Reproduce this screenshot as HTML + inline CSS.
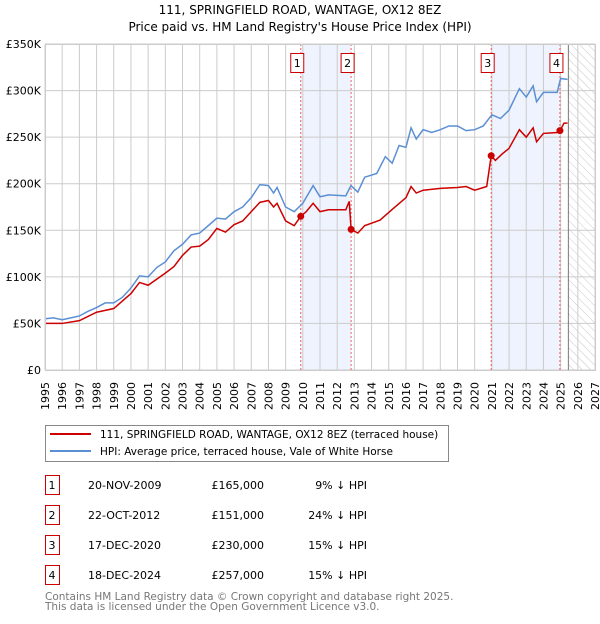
<!DOCTYPE html>
<html><head><meta charset="utf-8"><style>
body{margin:0;background:#fff;font-family:"DejaVu Sans","Liberation Sans",sans-serif;}
svg text{font-family:"DejaVu Sans","Liberation Sans",sans-serif;}
</style></head><body>
<svg id="chart" width="600" height="620" xmlns="http://www.w3.org/2000/svg">
<defs><pattern id="hatch" width="6" height="6" patternUnits="userSpaceOnUse" patternTransform="rotate(-45)"><line x1="0" y1="0" x2="0" y2="6" stroke="#bbb" stroke-width="0.8"/></pattern></defs>
<text x="300" y="14" text-anchor="middle" font-size="12">111, SPRINGFIELD ROAD, WANTAGE, OX12 8EZ</text>
<text x="300" y="31" text-anchor="middle" font-size="12">Price paid vs. HM Land Registry's House Price Index (HPI)</text>
<g id="plot"></g>
<g>
<rect x="45.5" y="425.5" width="403" height="36" fill="#fff" stroke="#888"/>
<line x1="50" y1="434" x2="91" y2="434" stroke="#cc0000" stroke-width="2"/>
<text x="100" y="438" font-size="10.5">111, SPRINGFIELD ROAD, WANTAGE, OX12 8EZ (terraced house)</text>
<line x1="50" y1="451" x2="91" y2="451" stroke="#5b8fd4" stroke-width="2"/>
<text x="100" y="455" font-size="10.5">HPI: Average price, terraced house, Vale of White Horse</text>
</g>
<g id="table"></g>
<text x="45" y="600" font-size="10.5" fill="#777">Contains HM Land Registry data © Crown copyright and database right 2025.</text>
<text x="45" y="610" font-size="10.5" fill="#777">This data is licensed under the Open Government Licence v3.0.</text>
</svg>
<script>
const hpiYears=[1995,1995.5,1996,1996.5,1997,1997.5,1998,1998.5,1999,1999.5,2000,2000.5,2001,2001.5,2002,2002.5,2003,2003.5,2004,2004.5,2005,2005.5,2006,2006.5,2007,2007.5,2008,2008.3,2008.5,2009,2009.5,2010,2010.6,2011,2011.5,2012.5,2012.8,2013.2,2013.6,2014.3,2014.8,2015.2,2015.6,2016,2016.3,2016.6,2017,2017.5,2018,2018.5,2019,2019.5,2020,2020.5,2021,2021.5,2022,2022.6,2023,2023.4,2023.6,2024,2024.8,2025,2025.4];
const hpiValues=[55,56,54,56,58,63,67,72,72,78,88,101,100,110,116,128,135,145,147,155,163,162,170,175,185,199,198,190,196,175,170,179,198,186,188,187,198,191,207,211,229,222,241,239,260,248,258,255,258,262,262,257,258,262,274,270,279,302,293,305,288,298,298,313,312];
const ppYears=[1995,1996,1997,1998,1999,2000,2000.5,2001,2002,2002.5,2003,2003.5,2004,2004.5,2005,2005.5,2006,2006.5,2007,2007.5,2008,2008.3,2008.5,2009,2009.5,2009.88,2010.2,2010.6,2011,2011.5,2012.5,2012.7,2012.81,2013.2,2013.6,2014.5,2015.3,2016,2016.3,2016.6,2017,2018,2019,2019.5,2020,2020.7,2020.96,2021.2,2021.6,2022,2022.6,2023,2023.4,2023.6,2024,2024.8,2024.96,2025.2,2025.4];
const ppValues=[50,50,53,62,66,82,94,91,104,111,123,132,133,140,152,148,156,160,170,180,182,175,179,160,155,165,170,179,170,172,172,181,151,147,155,161,174,185,197,190,193,195,196,197,193,197,230,225,232,238,258,250,260,245,254,255,257,265,265];
const saleIds=["1","2","3","4"];
const saleYears=[2009.88,2012.81,2020.96,2024.96];
const salePrices=[165,151,230,257];
const saleDates=["20-NOV-2009","22-OCT-2012","17-DEC-2020","18-DEC-2024"];
const salePriceLabels=["£165,000","£151,000","£230,000","£257,000"];
const saleDiffs=["9% ↓ HPI","24% ↓ HPI","15% ↓ HPI","15% ↓ HPI"];
const yTicks=[0,50,100,150,200,250,300,350];
const yTickLabels=["£0","£50K","£100K","£150K","£200K","£250K","£300K","£350K"];
const xTicks=[1995,1996,1997,1998,1999,2000,2001,2002,2003,2004,2005,2006,2007,2008,2009,2010,2011,2012,2013,2014,2015,2016,2017,2018,2019,2020,2021,2022,2023,2024,2025,2026,2027];
const dataEnd=2025.45;

const L=45,R=595,T=44,B=370,X0=1995,X1=2027,YMAX=350;
const x=v=>L+(v-X0)/(X1-X0)*(R-L);
const y=v=>B-v/YMAX*(B-T);
const NS="http://www.w3.org/2000/svg";
function mk(tag,attrs,parent){const e=document.createElementNS(NS,tag);for(const k in attrs)e.setAttribute(k,attrs[k]);parent.appendChild(e);return e;}
const plot=document.getElementById('plot');
for(let i=0;i<saleYears.length;i+=2){
 const r=mk('rect',{x:x(saleYears[i]),y:T,width:x(saleYears[i+1])-x(saleYears[i]),height:B-T,fill:'#eef3fd'},plot);
 
 
}
const h=mk('rect',{x:x(dataEnd),y:T,width:R-x(dataEnd),height:B-T,fill:'url(#hatch)'},plot);


xTicks.forEach(t=>{
 const g=mk('line',{x1:x(t),y1:T,x2:x(t),y2:B,stroke:'#ccc','stroke-width':1},plot);
 
 
 const s=String(t);
 const bx=x(t)+4;
 const xs=[],ys=[];
 for(let k=0;k<s.length;k++){xs.push(bx.toFixed(1));ys.push((410-k*7).toFixed(1));}
 const lb=mk('text',{x:xs.join(' '),y:ys.join(' '),rotate:'-90','font-size':11},plot);
 lb.textContent=s;
 
 
});
yTicks.forEach((t,i)=>{
 const g=mk('line',{x1:L,y1:y(t),x2:R,y2:y(t),stroke:'#ccc','stroke-width':1},plot);
 
 
 const lb=mk('text',{x:L-4,y:y(t)+4,'font-size':11,'text-anchor':'end'},plot);
 lb.textContent=yTickLabels[i];
 
 
});
const ve=mk('line',{x1:x(dataEnd),y1:T,x2:x(dataEnd),y2:B,stroke:'#777','stroke-width':1},plot);


saleYears.forEach((s,i)=>{
 const l=mk('line',{x1:x(s),y1:T,x2:x(s),y2:B,stroke:'#f06060','stroke-width':1,'stroke-dasharray':'2,2'},plot);
 
 
 const bx=mk('rect',{x:x(s)-10,y:53.5,width:13,height:19,fill:'#fff',stroke:'#cc0000'},plot);
 
 
 const t=mk('text',{x:x(s)-3.5,y:67,'font-size':11,'text-anchor':'middle'},plot);
 t.textContent=saleIds[i];
 
 
});
const hp=mk('polyline',{points:hpiYears.map((v,i)=>x(v)+','+y(hpiValues[i])).join(' '),fill:'none',stroke:'#5b8fd4','stroke-width':1.5},plot);


const pp=mk('polyline',{points:ppYears.map((v,i)=>x(v)+','+y(ppValues[i])).join(' '),fill:'none',stroke:'#cc0000','stroke-width':1.5},plot);


saleYears.forEach((s,i)=>{
 const c=mk('circle',{cx:x(s),cy:y(salePrices[i]),r:3.5,fill:'#cc0000'},plot);
 
 
});
const fr=mk('rect',{x:L+0.5,y:T+0.5,width:R-L,height:B-T,fill:'none',stroke:'#ccc'},plot);


const tb=document.getElementById('table');
saleIds.forEach((id,i)=>{
 const ry=475+i*30;
 const b=mk('rect',{x:45.5,y:ry+0.5,width:14,height:19,fill:'#fff',stroke:'#cc0000'},tb);
 
 
 const cells=[[52,id,'middle'],[88,saleDates[i],'start'],[264,salePriceLabels[i],'end'],[367,saleDiffs[i],'end']];
 cells.forEach(c=>{
  const t=mk('text',{x:c[0],y:ry+14,'font-size':11,'text-anchor':c[2]},tb);
  t.textContent=c[1];
  
  
 });
});
</script>
</body></html>
